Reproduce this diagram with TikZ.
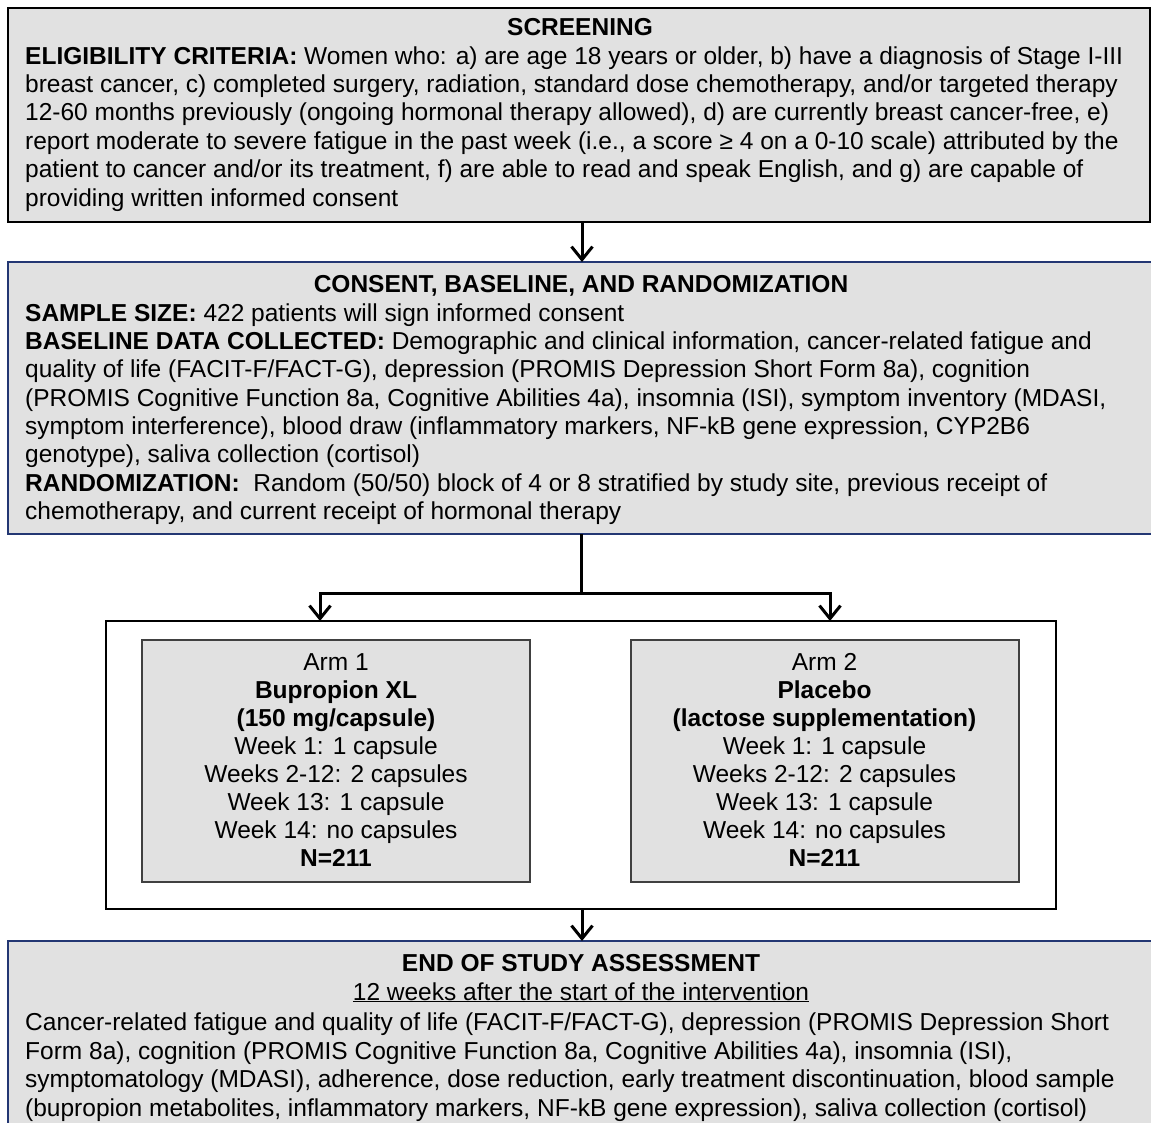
\documentclass[tikz,border=0pt]{standalone}
\usepackage{fontspec}
\setmainfont{Liberation Sans}
\usetikzlibrary{arrows.meta}
\definecolor{boxgray}{RGB}{225,225,225}
\definecolor{navy}{RGB}{35,55,115}
\newcommand\fsA{\fontsize{24.5}{28.4}\selectfont}
\newcommand\fsB{\fontsize{24.5}{28.3}\selectfont}
\newcommand\fsC{\fontsize{24.5}{28.1}\selectfont}
\newcommand\fsD{\fontsize{24.5}{28.8}\selectfont}
\newcommand\fl{\rule{0pt}{18pt}}
\begin{document}
\begin{tikzpicture}[x=1pt,y=-1pt,
  box/.style={draw=black, line width=1.8pt, fill=boxgray, anchor=north west, inner sep=0pt, outer sep=0pt, rectangle},
  bluebox/.style={box, draw=navy, line width=1.5pt},
  plainbox/.style={box, fill=white},
  armbox/.style={box, draw=black!75},
  body/.style={anchor=north west, inner sep=0pt, align=left},
  armtext/.style={anchor=north, inner sep=0pt, align=center, font=\fsC},
  ttl/.style={anchor=base, inner sep=0pt, font=\fsA\bfseries},
  conn/.style={line width=3pt, -{Straight Barb[length=13pt,width=21pt]}},
  plainline/.style={line width=3pt}
]
\useasboundingbox (0,0) rectangle (1151,1123);
\fill[white] (0,0) rectangle (1151,1123);

% boxes
\node[box, minimum width=1142pt, minimum height=214pt] (screen) at (8,8) {};
\node[bluebox, minimum width=1160pt, minimum height=272pt] (consent) at (8,262) {};
\node[plainbox, minimum width=950pt, minimum height=288pt] (outer) at (106,621) {};
\node[armbox, minimum width=388pt, minimum height=242pt] (arm1) at (142,640) {};
\node[armbox, minimum width=388pt, minimum height=242pt] (arm2) at (631,640) {};
\node[bluebox, minimum width=1160pt, minimum height=200pt] (endbox) at (8,941) {};

% screening text
\node[ttl] (screenT) at (580,36) {SCREENING};
\node[body, font=\fsA] (screenB) at (25,64-18) {\fl\textbf{ELIGIBILITY CRITERIA:} Women who: a) are age 18 years or older, b) have a diagnosis of Stage I-III\\
breast cancer, c) completed surgery, radiation, standard dose chemotherapy, and/or targeted therapy\\
12-60 months previously (ongoing hormonal therapy allowed), d) are currently breast cancer-free, e)\\
report moderate to severe fatigue in the past week (i.e., a score ≥ 4 on a 0-10 scale) attributed by the\\
patient to cancer and/or its treatment, f) are able to read and speak English, and g) are capable of\\
providing written informed consent};

% consent text
\node[ttl] (consentT) at (581,292.5) {CONSENT, BASELINE, AND RANDOMIZATION};
\node[body, font=\fsB] (consentB) at (25,321-18) {\fl\textbf{SAMPLE SIZE:} 422 patients will sign informed consent\\
\textbf{BASELINE DATA COLLECTED:} Demographic and clinical information, cancer-related fatigue and\\
quality of life (FACIT-F/FACT-G), depression (PROMIS Depression Short Form 8a), cognition\\
(PROMIS Cognitive Function 8a, Cognitive Abilities 4a), insomnia (ISI), symptom inventory (MDASI,\\
symptom interference), blood draw (inflammatory markers, NF-kB gene expression, CYP2B6\\
genotype), saliva collection (cortisol)\\
\textbf{RANDOMIZATION:}\ \ Random (50/50) block of 4 or 8 stratified by study site, previous receipt of\\
chemotherapy, and current receipt of hormonal therapy};

% arm texts
\node[armtext] (arm1T) at (336,670-18) {\fl Arm 1\\
\textbf{Bupropion XL}\\
\textbf{(150 mg/capsule)}\\
Week 1: 1 capsule\\
Weeks 2-12: 2 capsules\\
Week 13: 1 capsule\\
Week 14: no capsules\\
\textbf{N=211}};
\node[armtext] (arm2T) at (824.5,670-18) {\fl Arm 2\\
\textbf{Placebo}\\
\textbf{(lactose supplementation)}\\
Week 1: 1 capsule\\
Weeks 2-12: 2 capsules\\
Week 13: 1 capsule\\
Week 14: no capsules\\
\textbf{N=211}};

% end text
\node[ttl] (endT) at (581,971) {END OF STUDY ASSESSMENT};
\node[anchor=base, inner sep=0pt, font=\fsA] (endS) at (581,1000) {\underline{12 weeks after the start of the intervention}};
\node[body, font=\fsD] (endB) at (25,1030-18) {\fl Cancer-related fatigue and quality of life (FACIT-F/FACT-G), depression (PROMIS Depression Short\\
Form 8a), cognition (PROMIS Cognitive Function 8a, Cognitive Abilities 4a), insomnia (ISI),\\
symptomatology (MDASI), adherence, dose reduction, early treatment discontinuation, blood sample\\
(bupropion metabolites, inflammatory markers, NF-kB gene expression), saliva collection (cortisol)};

% connectors
\coordinate (c1) at (582,0);
\coordinate (split) at (581,593);
\coordinate (lt) at (320,593);
\coordinate (rt) at (830,593);
\draw[conn] (screen.south -| c1) -- (consent.north -| c1);
\draw[plainline] (consent.south -| split) -- (split);
\draw[conn, line join=miter] (split) -- (lt) -- (lt |- outer.north);
\draw[conn, line join=miter] (split) -- (rt) -- (rt |- outer.north);
\draw[conn] (outer.south -| c1) -- (endbox.north -| c1);
\end{tikzpicture}
\end{document}
